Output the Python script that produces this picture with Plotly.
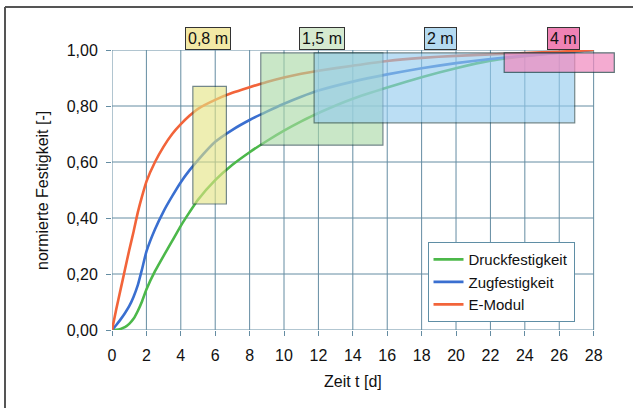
import plotly.graph_objects as go

# ---- data ----
t_days = [0, 0.25, 0.5, 0.75, 1, 1.25, 1.5, 1.75, 2, 2.5, 3, 3.5, 4, 4.5, 5, 6, 7, 8, 9, 10, 11, 12,
          14, 16, 18, 20, 22, 24, 26, 28]
druck = [0, 0.001, 0.004, 0.01, 0.022, 0.04, 0.068, 0.103, 0.145, 0.21, 0.265, 0.318, 0.372, 0.42,
         0.465, 0.535, 0.59, 0.635, 0.675, 0.712, 0.745, 0.775, 0.826, 0.866, 0.903, 0.935, 0.962,
         0.978, 0.99, 1.0]
zug = [0, 0.018, 0.038, 0.06, 0.085, 0.118, 0.16, 0.218, 0.28, 0.36, 0.424, 0.478, 0.528, 0.57,
       0.607, 0.672, 0.715, 0.75, 0.78, 0.808, 0.833, 0.855, 0.887, 0.913, 0.935, 0.953, 0.968,
       0.98, 0.99, 1.0]
emod = [0, 0.075, 0.145, 0.215, 0.285, 0.35, 0.42, 0.478, 0.53, 0.60, 0.655, 0.70, 0.735, 0.765,
        0.79, 0.822, 0.847, 0.867, 0.886, 0.902, 0.915, 0.926, 0.944, 0.961, 0.972, 0.979, 0.984,
        0.989, 0.994, 1.0]

series_names = ["Druckfestigkeit", "Zugfestigkeit", "E-Modul"]

box_labels = ["0,8 m", "1,5 m", "2 m", "4 m"]
box_x0 = [4.7, 8.65, 11.75, 22.8]
box_x1 = [6.65, 15.75, 26.9, 29.2]
box_y0 = [0.45, 0.66, 0.74, 0.92]
box_y1 = [0.87, 0.99, 0.99, 0.99]
label_x = [5.6, 12.2, 19.1, 26.25]

x_ticks = list(range(0, 29, 2))
y_ticks = [0, 0.2, 0.4, 0.6, 0.8, 1.0]

# ---- styles ----
line_colors = ["#4cb84a", "#3a6fd0", "#f2643a"]
box_fill = ["#e4e484", "#a9d9a6", "#93cbee", "#f08cc0"]
box_opacity = [0.62, 0.62, 0.62, 0.72]
label_bg = ["#f3e9a6", "#d6ead0", "#b4daf1", "#ef82b4"]
grid_col = "#648ca2"
FONT = "Liberation Sans, Arial, sans-serif"

fig = go.Figure()
for name, ys, col in zip(series_names, [druck, zug, emod], line_colors):
    fig.add_trace(go.Scatter(x=t_days, y=ys, mode="lines", name=name,
                             line=dict(color=col, width=2.6, shape="spline", smoothing=0.5)))

shapes = []
# grid
for xv in x_ticks:
    shapes.append(dict(type="line", xref="x", yref="y", x0=xv, x1=xv, y0=0, y1=1,
                       line=dict(color=grid_col, width=1), layer="below"))
for yv in y_ticks:
    shapes.append(dict(type="line", xref="x", yref="y", x0=0, x1=x_ticks[-1], y0=yv, y1=yv,
                       line=dict(color=grid_col, width=1), layer="below"))
# boxes
for i in range(len(box_labels)):
    shapes.append(dict(type="rect", xref="x", yref="y", x0=box_x0[i], x1=box_x1[i],
                       y0=box_y0[i], y1=box_y1[i], fillcolor=box_fill[i], opacity=box_opacity[i],
                       line=dict(color="#1f3f44", width=1.2), layer="above"))
# outer frame (top and left)
shapes.append(dict(type="line", xref="paper", yref="paper", x0=-0.2123, x1=1.05, y0=1.1534, y1=1.1534,
                   line=dict(color="#555555", width=2)))
shapes.append(dict(type="line", xref="paper", yref="paper", x0=-0.2123, x1=-0.2123, y0=1.1534, y1=-0.3,
                   line=dict(color="#555555", width=2)))

annotations = []
for i in range(len(box_labels)):
    annotations.append(dict(x=label_x[i], xref="x", y=1, yref="paper", xanchor="center",
                            yanchor="bottom", yshift=0,
                            text=box_labels[i], showarrow=False,
                            font=dict(family=FONT, size=16, color="#111111"),
                            bgcolor=label_bg[i], bordercolor="#333333", borderwidth=1, borderpad=2))
annotations.append(dict(x=14, xref="x", y=-0.183, yref="paper", xanchor="center", yanchor="middle",
                        text="Zeit t [d]", showarrow=False,
                        font=dict(family=FONT, size=16, color="#111111")))
annotations.append(dict(x=-0.139, xref="paper", y=0.5, yref="paper", xanchor="center",
                        yanchor="middle", textangle=-90,
                        text="normierte Festigkeit [-]", showarrow=False,
                        font=dict(family=FONT, size=16, color="#111111")))

fig.update_layout(
    width=633, height=408,
    margin=dict(l=112, r=17, t=50, b=78),
    paper_bgcolor="white", plot_bgcolor="white",
    separators=", ",
    font=dict(family=FONT, size=16, color="#111111"),
    shapes=shapes, annotations=annotations,
    showlegend=True,
    legend=dict(x=0.626, y=0.028, xanchor="left", yanchor="bottom",
                bgcolor="white", bordercolor="#5f8ea5", borderwidth=1,
                font=dict(family=FONT, size=15, color="#111111"),
                tracegroupgap=0, itemwidth=30),
    xaxis=dict(range=[0, 29.3], tickvals=x_ticks, showgrid=False, zeroline=False,
               ticks="outside", ticklen=5, tickcolor=grid_col, showline=False,
               ticklabelstandoff=6, tickfont=dict(family=FONT, size=16, color="#111111")),
    yaxis=dict(range=[0, 1.0], tickvals=y_ticks, tickformat=".2f", showgrid=False, zeroline=False,
               ticks="outside", ticklen=5, tickcolor=grid_col, showline=False,
               ticklabelstandoff=5, tickfont=dict(family=FONT, size=16, color="#111111")),
)

fig.write_html("out.html", config={"displayModeBar": False},
               post_script="document.body.style.margin='0px';")
